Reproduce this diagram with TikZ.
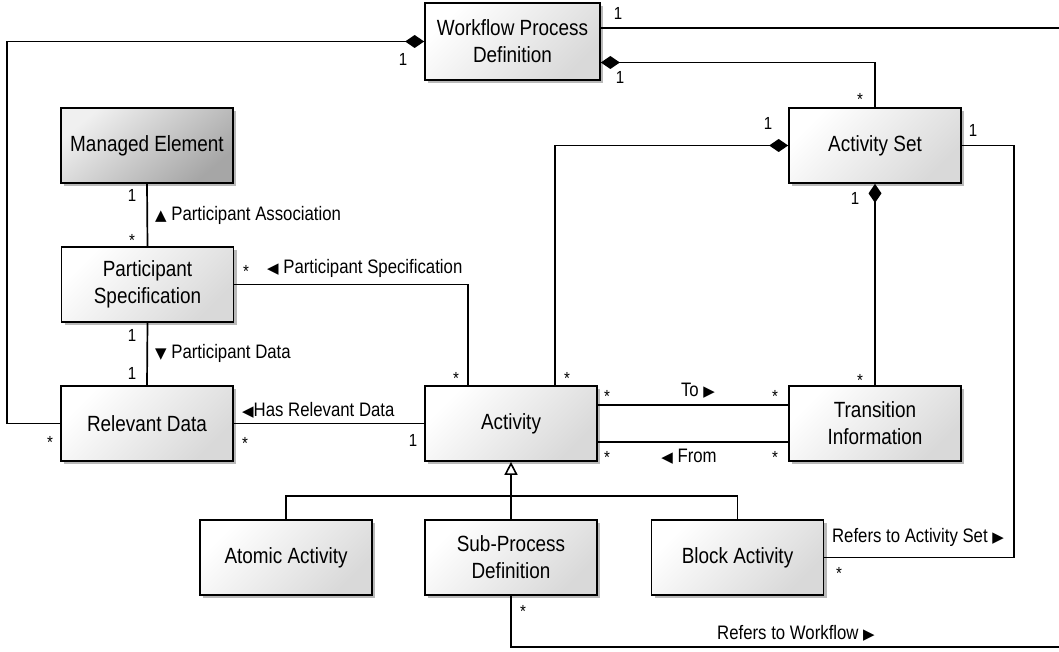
\documentclass[tikz,border=0pt]{standalone}
\usepackage{fontspec}
\setmainfont{Liberation Sans}[FakeStretch=0.86]
\newfontfamily\symfont{DejaVu Sans}
\usetikzlibrary{arrows.meta,shadows,calc}
% pointer glyph inside association names
\newcommand\dirmark[1]{{\symfont\fontsize{15}{15}\selectfont #1}}

\begin{document}
\begin{tikzpicture}[x=1pt,y=-1pt,
  cls/.style={draw=black, line width=1.7pt, minimum width=172pt, minimum height=75pt,
    inner sep=0pt, align=center, font=\fontsize{22}{27}\selectfont,
    top color=white, bottom color=black!15, shading angle=45,
    drop shadow={shadow xshift=3pt, shadow yshift=-3pt, fill=black!50, opacity=0.55}},
  darkcls/.style={cls, top color=black!6, bottom color=black!35, shading angle=40},
  link/.style={draw=black, line width=1.7pt},
  comp/.style={link, -{Diamond[length=19pt,width=13pt]}},
  gen/.style={link, -{Triangle[open,fill=white,length=13pt,width=13pt,line width=1.6pt]}},
  mult/.style={font=\fontsize{17.5}{17.5}\selectfont, inner sep=0pt},
  lbl/.style={font=\fontsize{19.5}{20}\selectfont, inner sep=0pt}
]
\useasboundingbox (0,0) rectangle (1059,652);

% classes
\node[cls, minimum width=175pt, minimum height=77pt] (wpd) at (512.5,41.5) {Workflow Process\\Definition};
\node[darkcls] (me)  at (147,145.5) {Managed Element};
\node[cls] (ps)  at (147.5,284.5) {Participant\\Specification};
\node[cls] (rd)  at (147,423.5) {Relevant Data};
\node[cls] (act) at (511,423.5) {Activity};
\node[cls] (aset) at (875,145.5) {Activity Set};
\node[cls] (ti)  at (875,423.5) {Transition\\Information};
\node[cls] (atomic) at (286,557.5) {Atomic Activity};
\node[cls] (sub) at (511,557.5) {Sub-Process\\Definition};
\node[cls] (block) at (737.5,557.5) {Block Activity};

% the return path of "Refers to Workflow" runs just past the right edge
\coordinate (offright) at (1066,647);

% associations and compositions
\draw[link] (sub.south) |- (offright) |- ($(wpd.east)+(0,-13.5)$);
\draw[comp] (aset.north) |- ($(wpd.east)+(0,21)$);
\draw[comp] (rd.west) -- ++(-53,0) |- (wpd.west);
\draw[link] (me.south) -- (ps.north);
\draw[link] (ps.south) -- (rd.north);
\draw[link] (ps.east) -| ($(act.north)+(-43,0)$);
\draw[link] (rd.east) -- (act.west);
\draw[comp] ($(act.north)+(44,0)$) |- (aset.west);
\draw[comp] (ti.north) -- (aset.south);
\draw[link] ($(act.east)+(0,-18.5)$) -- ($(ti.west)+(0,-18.5)$);
\draw[link] ($(act.east)+(0,18.5)$) -- ($(ti.west)+(0,18.5)$);
\draw[link] (aset.east) -- ++(52,0) |- (block.east);

% generalization
\draw[link] (atomic.north) -- ++(0,-23) -| (block.north);
\draw[gen] (sub.north) -- (act.south);

% multiplicities
\node[mult] at (618,13) {1};
\node[mult] at (620,77) {1};
\node[mult] at (860,99) {*};
\node[mult] at (403,59) {1};
\node[mult] at (50,442) {*};
\node[mult] at (132,195) {1};
\node[mult] at (132,240) {*};
\node[mult] at (246,271) {*};
\node[mult] at (456,378) {*};
\node[mult] at (132,335) {1};
\node[mult] at (132,373) {1};
\node[mult] at (245,443) {*};
\node[mult] at (413,440) {1};
\node[mult] at (567,378) {*};
\node[mult] at (768,123) {1};
\node[mult] at (855,198) {1};
\node[mult] at (860,380) {*};
\node[mult] at (973,130) {1};
\node[mult] at (607,396) {*};
\node[mult] at (775,396) {*};
\node[mult] at (607,457) {*};
\node[mult] at (775,457) {*};
\node[mult] at (839,573) {*};
\node[mult] at (523,611) {*};

% association names
\node[lbl, anchor=west] at (155,215) {\dirmark{▲} Participant Association};
\node[lbl, anchor=west] at (267,268) {\dirmark{◀} Participant Specification};
\node[lbl, anchor=west] at (155,353) {\dirmark{▼} Participant Data};
\node[lbl, anchor=west] at (242,410) {\dirmark{◀}Has Relevant Data};
\node[lbl] at (698,391) {To \dirmark{▶}};
\node[lbl] at (689,457) {\dirmark{◀} From};
\node[lbl] at (918,537) {Refers to Activity Set \dirmark{▶}};
\node[lbl] at (796,633) {Refers to Workflow \dirmark{▶}};
\end{tikzpicture}
\end{document}
